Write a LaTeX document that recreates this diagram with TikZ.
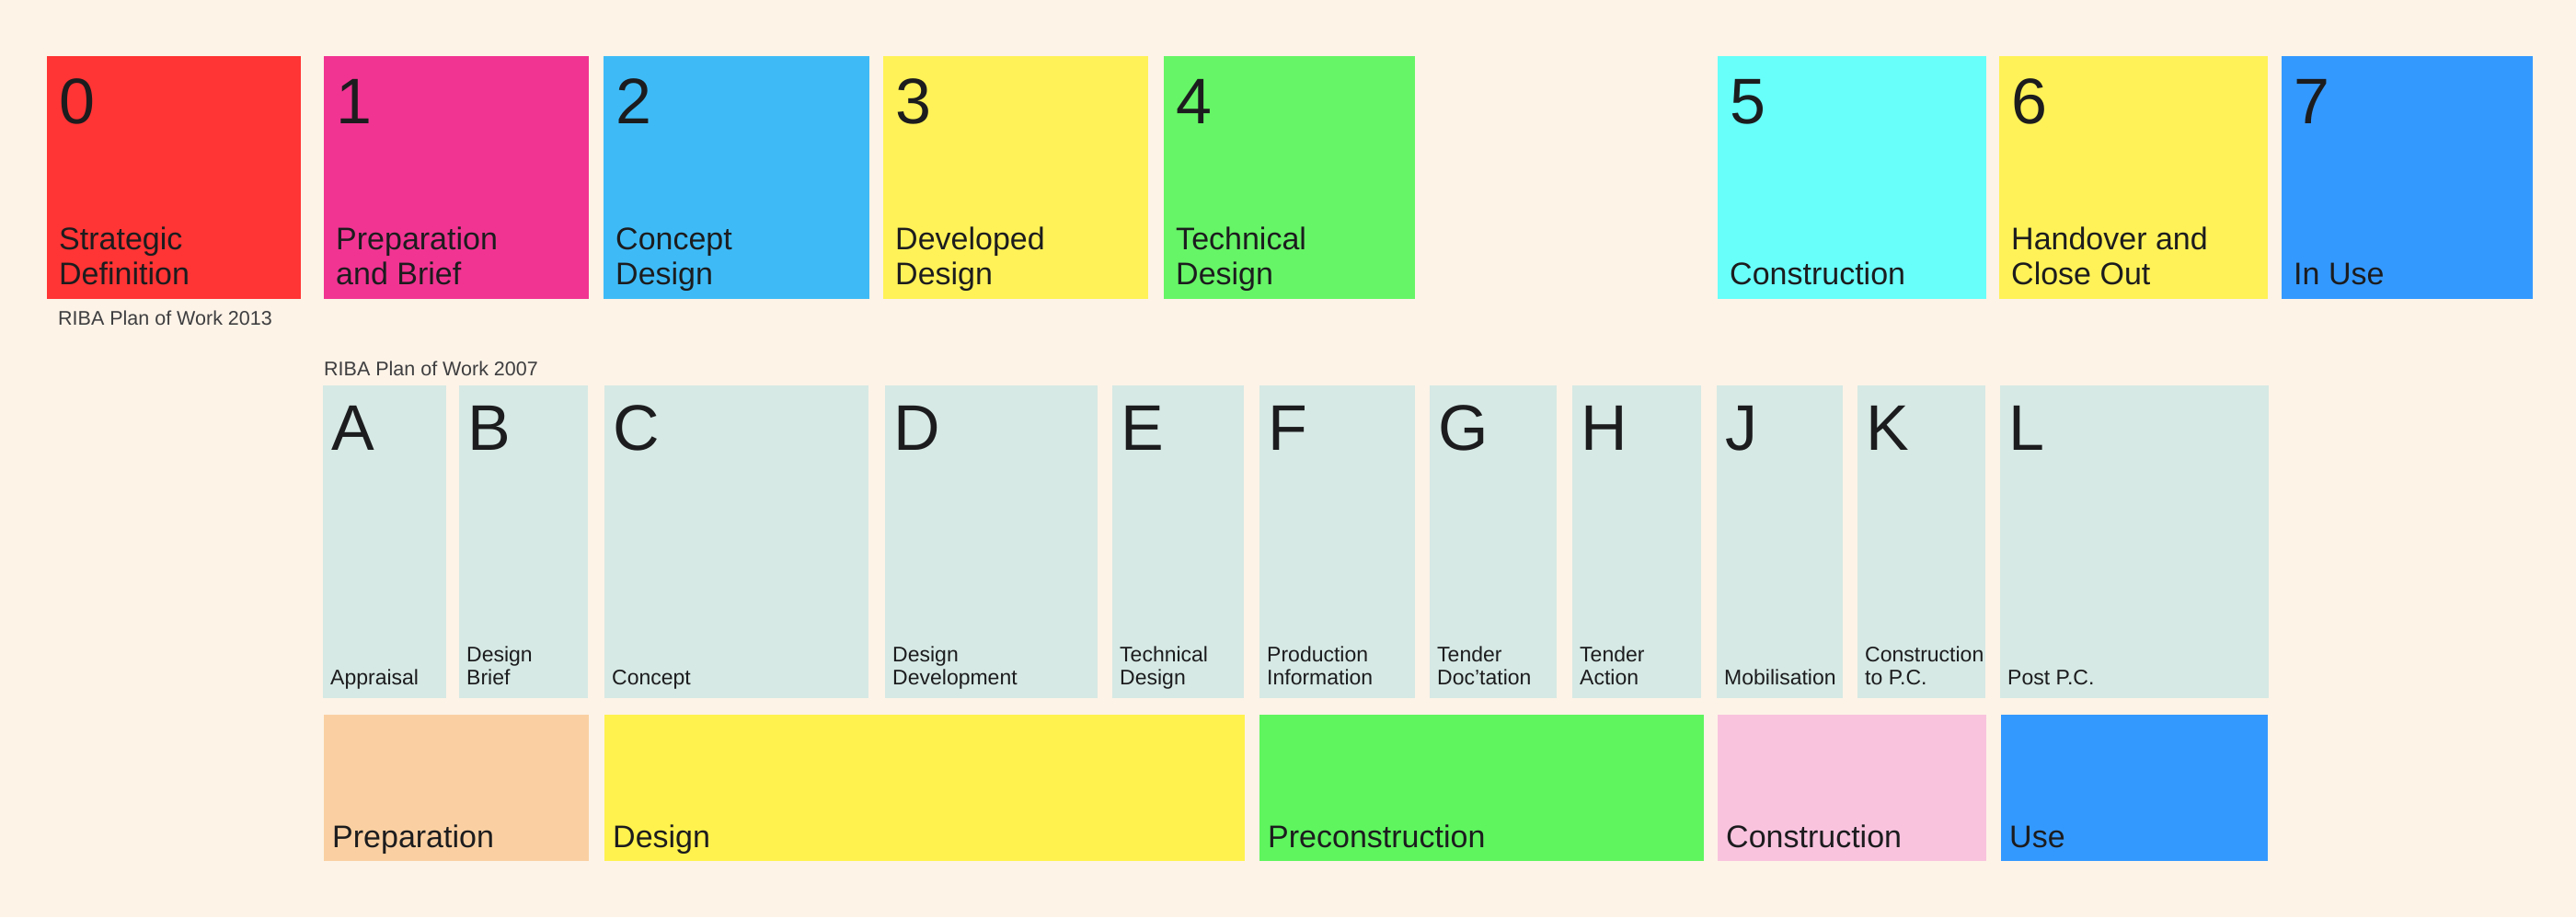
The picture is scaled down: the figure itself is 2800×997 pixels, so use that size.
\documentclass[tikz,border=0pt]{standalone}
\usepackage{fontspec}
\setmainfont{Liberation Sans}
\usetikzlibrary{calc}

% Palette
\definecolor{paper}{RGB}{253,243,231}
\definecolor{ink}{RGB}{28,28,30}
\definecolor{stRed}{RGB}{255,52,52}
\definecolor{stMagenta}{RGB}{241,52,146}
\definecolor{stSky}{RGB}{62,187,247}
\definecolor{stYellow}{RGB}{255,242,88}
\definecolor{stGreen}{RGB}{102,245,102}
\definecolor{stCyan}{RGB}{104,255,250}
\definecolor{stBlue}{RGB}{52,153,255}
\definecolor{oldStage}{RGB}{214,233,228}
\definecolor{phPeach}{RGB}{250,208,162}
\definecolor{phYellow}{RGB}{255,242,78}
\definecolor{phGreen}{RGB}{94,245,94}
\definecolor{phPink}{RGB}{249,195,222}

\tikzset{
  panel/.style={draw=none, inner sep=0pt, outer sep=0pt, anchor=north west},
  bignum/.style={anchor=base west, inner sep=0pt, text=ink, font=\fontsize{70}{70}\selectfont},
  bigletter/.style={anchor=base west, inner sep=0pt, text=ink, font=\fontsize{70}{70}\selectfont},
  stagelabel/.style={anchor=south west, inner sep=0pt, text depth=0pt, align=left, text=ink,
    font=\fontsize{34}{38}\selectfont},
  minilabel/.style={anchor=south west, inner sep=0pt, text depth=0pt, align=left, text=ink,
    font=\fontsize{23}{25}\selectfont},
  caption/.style={anchor=base west, inner sep=0pt, text=ink!85, font=\fontsize{21.5}{21.5}\selectfont},
}

% \panelbox{name}{x1}{y1}{x2}{y2}{colour}
\newcommand\panelbox[6]{%
  \node[panel, fill=#6, minimum width={(#4-#2)*1pt}, minimum height={(#5-#3)*1pt}] (#1) at (#2,#3) {};%
}
% 2013 stage: number at top, name at bottom
\newcommand\newstage[8]{%
  \panelbox{#1}{#2}{#3}{#4}{#5}{#6}%
  \node[bignum] (#1-num) at ($(#1.north west)+(13,73)$) {#7};%
  \node[stagelabel] (#1-name) at ($(#1.south west)+(13,-15)$) {#8};%
}
% 2007 work stage: letter at top, name at bottom
\newcommand\oldstage[5]{%
  \panelbox{#1}{#2}{419}{#3}{759}{oldStage}%
  \node[bigletter] (#1-let) at ($(#1.north west)+(9,70)$) {#4};%
  \node[minilabel] (#1-name) at ($(#1.south west)+(8,-14)$) {#5};%
}
% Project phase band
\newcommand\phase[5]{%
  \panelbox{#1}{#2}{777}{#3}{936}{#4}%
  \node[stagelabel] (#1-name) at ($(#1.south west)+(9,-14)$) {#5};%
}

\begin{document}
\begin{tikzpicture}[x=1pt, y=-1pt]
  \useasboundingbox (0,0) rectangle (2800,997);
  \fill[paper] (0,0) rectangle (2800,997);

  % RIBA Plan of Work 2013 stages
  \newstage{s0}{51}{61}{327}{325}{stRed}{0}{Strategic\\Definition}
  \newstage{s1}{352}{61}{640}{325}{stMagenta}{1}{Preparation\\and Brief}
  \newstage{s2}{656}{61}{945}{325}{stSky}{2}{Concept\\Design}
  \newstage{s3}{960}{61}{1248}{325}{stYellow}{3}{Developed\\Design}
  \newstage{s4}{1265}{61}{1538}{325}{stGreen}{4}{Technical\\Design}
  \newstage{s5}{1867}{61}{2159}{325}{stCyan}{5}{Construction}
  \newstage{s6}{2173}{61}{2465}{325}{stYellow}{6}{Handover and\\Close Out}
  \newstage{s7}{2480}{61}{2753}{325}{stBlue}{7}{In Use}

  \node[caption] (cap13) at (63,353) {RIBA Plan of Work 2013};
  \node[caption] (cap07) at (352,408) {RIBA Plan of Work 2007};

  % RIBA Plan of Work 2007 work stages
  \oldstage{wA}{351}{485}{A}{Appraisal}
  \oldstage{wB}{499}{639}{B}{Design\\Brief}
  \oldstage{wC}{657}{944}{C}{Concept}
  \oldstage{wD}{962}{1193}{D}{Design\\Development}
  \oldstage{wE}{1209}{1352}{E}{Technical\\Design}
  \oldstage{wF}{1369}{1538}{F}{Production\\Information}
  \oldstage{wG}{1554}{1692}{G}{Tender\\Doc'tation}
  \oldstage{wH}{1709}{1849}{H}{Tender\\Action}
  \oldstage{wJ}{1866}{2003}{J}{Mobilisation}
  \oldstage{wK}{2019}{2158}{K}{Construction\\to P.C.}
  \oldstage{wL}{2174}{2466}{L}{Post P.C.}

  % Project phases
  \phase{pPrep}{352}{640}{phPeach}{Preparation}
  \phase{pDes}{657}{1353}{phYellow}{Design}
  \phase{pPre}{1369}{1852}{phGreen}{Preconstruction}
  \phase{pCon}{1867}{2159}{phPink}{Construction}
  \phase{pUse}{2175}{2465}{stBlue}{Use}
\end{tikzpicture}
\end{document}
